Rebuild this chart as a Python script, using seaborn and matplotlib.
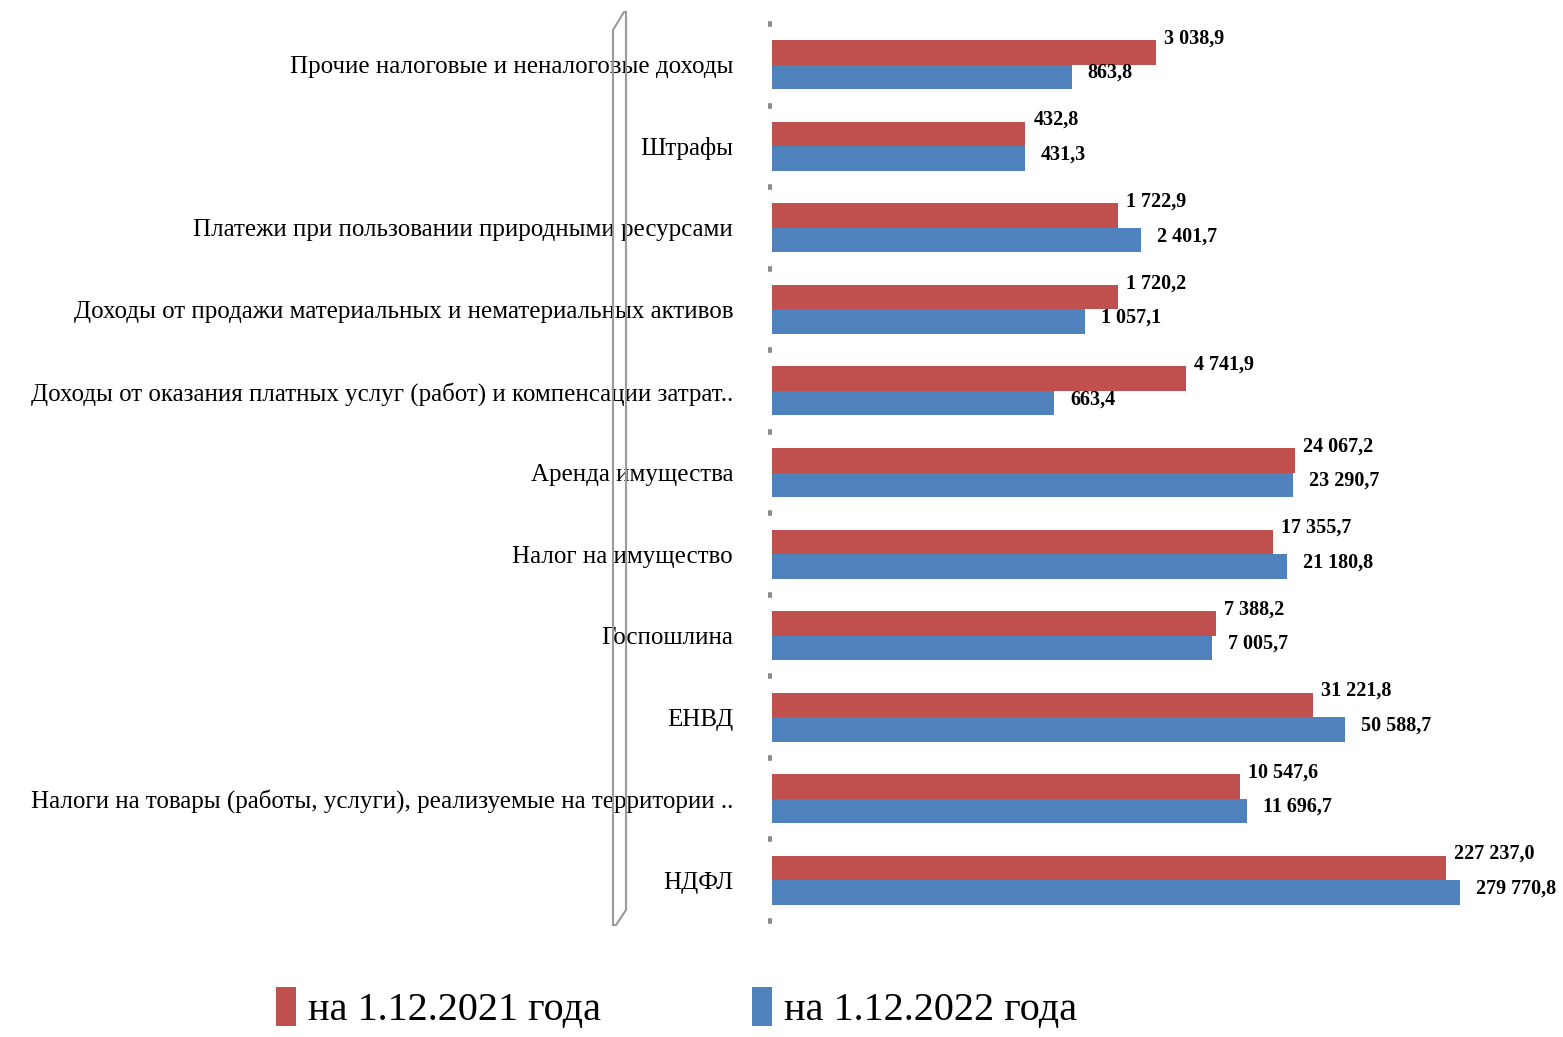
import matplotlib
matplotlib.use("Agg")
import matplotlib.pyplot as plt
import seaborn as sns
import pandas as pd
import numpy as np
from matplotlib.patches import Polygon

categories = [
    "Прочие налоговые и неналоговые доходы",
    "Штрафы",
    "Платежи при пользовании природными ресурсами",
    "Доходы от продажи материальных и нематериальных активов",
    "Доходы от оказания платных услуг (работ) и компенсации затрат..",
    "Аренда имущества",
    "Налог на имущество",
    "Госпошлина",
    "ЕНВД",
    "Налоги на товары (работы, услуги), реализуемые на территории ..",
    "НДФЛ",
]
series_names = ["на 1.12.2021 года", "на 1.12.2022 года"]
values_2021 = [3038.9, 432.8, 1722.9, 1720.2, 4741.9, 24067.2, 17355.7, 7388.2, 31221.8, 10547.6, 227237.0]
values_2022 = [863.8, 431.3, 2401.7, 1057.1, 663.4, 23290.7, 21180.8, 7005.7, 50588.7, 11696.7, 279770.8]

colors = ["#C0504D", "#4F81BD"]

df = pd.DataFrame({
    "cat": categories * 2,
    "val": values_2021 + values_2022,
    "year": [series_names[0]] * len(categories) + [series_names[1]] * len(categories),
})

sns.set_theme(style="white")
plt.rcParams["font.family"] = ["Liberation Serif", "DejaVu Serif"]

W, H = 1563, 1037
fig = plt.figure(figsize=(W / 100, H / 100), dpi=100)
ax = fig.add_axes([772 / W, 1 - 921 / H, (1546 - 772) / W, (921 - 24) / H])

sns.barplot(data=df, y="cat", x="val", hue="year", orient="h",
            palette=colors, saturation=1, width=0.6, linewidth=0, ax=ax, legend=True)
ax.set_xscale("log")
ax.set_xlim(10, 1e6)
ax.set_ylim(10.5, -0.5)
ax.set_xlabel("")
ax.set_ylabel("")
for s in ax.spines.values():
    s.set_visible(False)
ax.set_xticks([])
ax.xaxis.set_minor_locator(matplotlib.ticker.NullLocator())
ax.tick_params(axis="y", which="major", length=0, labelsize=18, pad=28,
               labelcolor="black")
ax.set_yticks(np.arange(-0.5, len(categories) + 0.5, 1.0), minor=True)
ax.tick_params(axis="y", which="minor", left=True, length=3, width=4, color="#8c8c8c")

# data labels
offsets = [(8, 14), (16, 4)]
for ci, cont in enumerate(ax.containers):
    for bar in cont:
        v = bar.get_x() + bar.get_width()
        yc = bar.get_y() + bar.get_height() / 2
        txt = f"{v:,.1f}".replace(",", " ").replace(".", ",")
        ax.annotate(txt, (v, yc), xytext=offsets[ci], textcoords="offset pixels",
                    ha="left", va="center", fontsize=14.5, fontweight="bold",
                    color="black", annotation_clip=False)

# legend
handles, labels = ax.get_legend_handles_labels()
ax.get_legend().remove()
leg = fig.legend(handles, labels, loc="center", bbox_to_anchor=(0.433, 1 - 1008 / H),
                 ncol=2, frameon=False, fontsize=29, handlelength=0.5, handleheight=1.1,
                 handletextpad=0.3, columnspacing=3.75)
for t in leg.get_texts():
    t.set_color("black")

# decorative 3D wall edge
pts = [(613, 925), (613, 30), (624, 12), (626, 12), (626, 910), (616, 925)]
poly = Polygon([(x / W, 1 - y / H) for x, y in pts], closed=True, fill=False,
               edgecolor="#9a9a9a", linewidth=1.5, transform=fig.transFigure)
fig.add_artist(poly)

fig.savefig("out.png", dpi=100)
